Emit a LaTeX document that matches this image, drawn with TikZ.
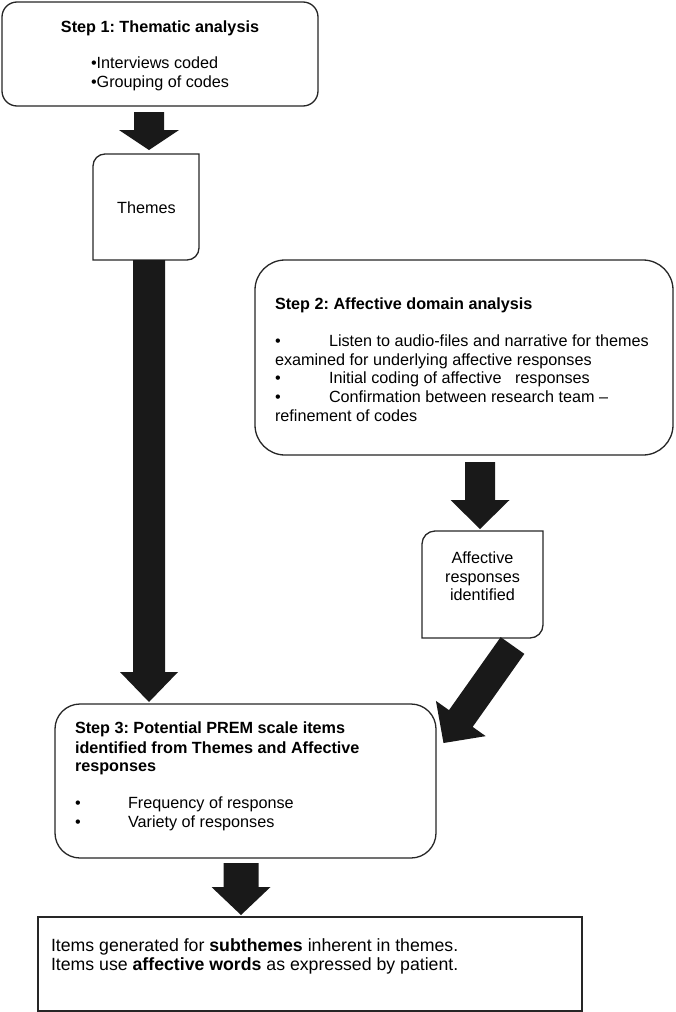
\documentclass[tikz,border=0pt]{standalone}
\usepackage{fontspec}
\setmainfont{Liberation Sans}
\usetikzlibrary{calc}
\frenchspacing
\definecolor{boxline}{gray}{0.15}
\definecolor{arrowfill}{gray}{0.1}
\newcommand\blockarrow[5]{%
  % #1 start, #2 tip, #3 shaft half width, #4 head half width, #5 head length
  \coordinate (ba-h) at ($(#2)!#5!(#1)$);
  \fill[arrowfill]
    ($(#1)!#3!90:(#2)$) -- ($(ba-h)!#3!90:(#2)$) -- ($(ba-h)!#4!90:(#2)$) --
    (#2) --
    ($(ba-h)!#4!-90:(#2)$) -- ($(ba-h)!#3!-90:(#2)$) -- ($(#1)!#3!-90:(#2)$) -- cycle;
}
\begin{document}
\frenchspacing
\begin{tikzpicture}[x=1pt,y=-1pt,
  box/.style={draw=boxline, line width=1.3pt, fill=white, inner sep=0pt, outer sep=0pt},
  anchorbox/.style={inner sep=0pt, outer sep=0pt},
  outline/.style={draw=boxline, line width=1.3pt},
  txt/.style={inner sep=0pt, outer sep=0pt, anchor=base west, font=\fontsize{16.2}{19}\selectfont},
  ctxt/.style={txt, anchor=base},
  btxt/.style={txt, font=\fontsize{16.2}{19}\selectfont\bfseries},
  bigtxt/.style={txt, font=\fontsize{17.7}{19}\selectfont}]
\useasboundingbox (0,0) rectangle (675,1012);

% boxes
\node[box, rounded corners=15pt, minimum width=316pt, minimum height=104pt] (step1) at (160,54) {};
\node[anchorbox, minimum width=106pt, minimum height=106pt] (themes) at (146,207) {};
\draw[outline] (themes.north east) -- ($(themes.south east)+(0,-12)$)
  arc[start angle=0, end angle=90, radius=12] -- (themes.south west)
  -- ($(themes.north west)+(0,12)$) arc[start angle=180, end angle=270, radius=12] -- cycle;
\node[box, rounded corners=30pt, minimum width=418pt, minimum height=195pt] (step2) at (464,357.5) {};
\node[anchorbox, minimum width=121pt, minimum height=107pt] (affect) at (482.5,584.5) {};
\draw[outline] (affect.north east) -- ($(affect.south east)+(0,-13)$)
  arc[start angle=0, end angle=90, radius=13] -- (affect.south west)
  -- ($(affect.north west)+(0,13)$) arc[start angle=180, end angle=270, radius=13] -- cycle;
\node[box, rounded corners=25pt, minimum width=381pt, minimum height=154pt] (step3) at (245.5,781) {};
\node[box, minimum width=544pt, minimum height=94pt] (items) at (310,964) {};

% block arrows
\coordinate (a1s) at ($(step1.south)+(-11,6)$);
\coordinate (a1e) at ($(themes.north)+(3,-4)$);
\blockarrow{a1s}{a1e}{15pt}{30pt}{20pt}
\coordinate (a2s) at ($(themes.south)+(3,0)$);
\coordinate (a2e) at ($(step3.north)+(-96.5,-2)$);
\blockarrow{a2s}{a2e}{16pt}{29pt}{30pt}
\coordinate (a3s) at ($(step2.south)+(16,7)$);
\coordinate (a3e) at ($(affect.north)+(-2.5,-2)$);
\blockarrow{a3s}{a3e}{15pt}{29.5pt}{29pt}
\coordinate (a4s) at ($(affect.south east)+(-30.5,7.5)$);
\coordinate (a4e) at ($(step3.east)+(7.5,-38)$);
\blockarrow{a4s}{a4e}{14.5pt}{30.5pt}{30pt}
\coordinate (a5s) at ($(step3.south)+(-4.5,5)$);
\coordinate (a5e) at ($(items.north)+(-69,-2)$);
\blockarrow{a5s}{a5e}{17.5pt}{29.5pt}{28pt}

% texts
\node[ctxt, font=\fontsize{16.2}{19}\selectfont\bfseries] (t1) at (160,32) {Step 1: Thematic analysis};
\node[txt] (t1a) at (91,68) {•Interviews coded};
\node[txt] (t1b) at (91,87) {•Grouping of codes};

\node[ctxt] (tth) at (146.5,213) {Themes};

\node[btxt] (t2) at (275,309) {Step 2: Affective domain analysis};
\node[txt] (t2b1) at (275,346) {•};
\node[txt] (t2l1) at (329,346) {Listen to audio-files and narrative for themes};
\node[txt] (t2l2) at (275,365) {examined for underlying affective responses};
\node[txt] (t2b2) at (275,383) {•};
\node[txt] (t2l3) at (329,383) {Initial coding of affective\ \ \ responses};
\node[txt] (t2b3) at (275,402) {•};
\node[txt] (t2l4) at (329,402) {Confirmation between research team –};
\node[txt] (t2l5) at (275,421) {refinement of codes};

\node[ctxt] (ta1) at (482.5,563) {Affective};
\node[ctxt] (ta2) at (482.5,582) {responses};
\node[ctxt] (ta3) at (482.5,600) {identified};

\node[btxt] (t3a) at (75,733) {Step 3: Potential PREM scale items};
\node[btxt] (t3b) at (75,753) {identified from Themes and Affective};
\node[btxt] (t3c) at (75,771) {responses};
\node[txt] (t3d) at (75,808) {•};
\node[txt] (t3e) at (128,808) {Frequency of response};
\node[txt] (t3f) at (75,827) {•};
\node[txt] (t3g) at (128,827) {Variety of responses};

\node[bigtxt] (ti1) at (51,951) {Items generated for \textbf{subthemes} inherent in themes.};
\node[bigtxt] (ti2) at (51,970) {Items use \textbf{affective words} as expressed by patient.};
\end{tikzpicture}
\end{document}
